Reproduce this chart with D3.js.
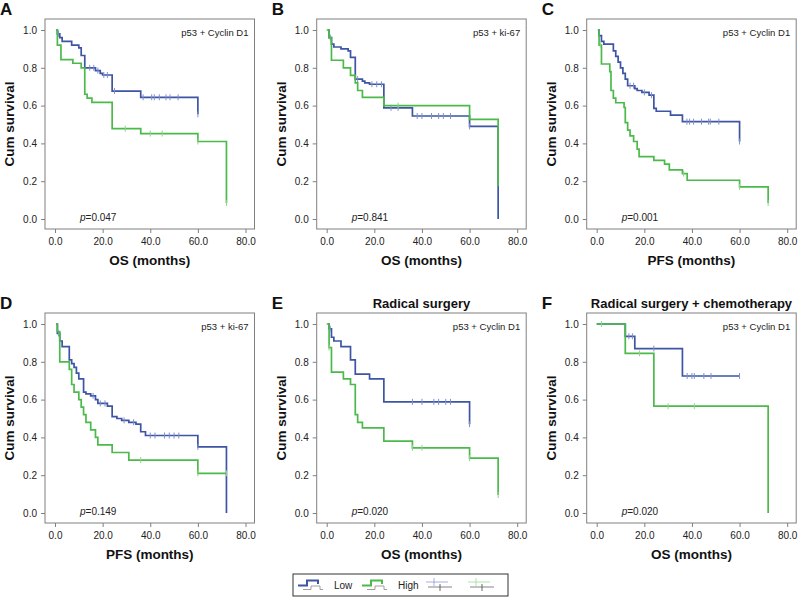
<!DOCTYPE html>
<html><head><meta charset="utf-8">
<script src="https://cdn.jsdelivr.net/npm/d3@7"></script>
<style>body{margin:0;background:#fff}</style></head>
<body>
<script>
// ---------- data ----------
const xTicks = [0, 20, 40, 60, 80];
const yTicks = [0, 0.2, 0.4, 0.6, 0.8, 1.0];
const groupNames = ["Low", "High"];

// Panel A (OS, p53 + Cyclin D1)
const aLowTime = [0.5, 1, 2, 3, 7, 10, 11, 12.5, 17, 19, 20, 24, 36, 60];
const aLowSurv = [1.0, 0.98, 0.96, 0.94, 0.92, 0.905, 0.865, 0.80, 0.785, 0.77, 0.762, 0.677, 0.644, 0.554];
const aLowCensor = [1.5, 14.6, 16.3, 18, 20.5, 22, 25, 37, 40.6, 41.7, 43.8, 46.6, 48.3, 51.7, 60];
const aHighTime = [0.5, 1, 2.5, 7.5, 11, 12.5, 13.5, 15.5, 24, 36, 60, 72];
const aHighSurv = [1.0, 0.92, 0.843, 0.824, 0.80, 0.66, 0.64, 0.617, 0.478, 0.452, 0.41, 0.085];
const aHighCensor = [29.5, 40, 45, 60, 72];

// Panel B (OS, p53 + ki-67)
const bLowTime = [0.5, 1, 2, 3, 6, 9, 10, 12, 15, 16, 18, 24, 36, 60, 72];
const bLowSurv = [1.0, 0.96, 0.925, 0.91, 0.90, 0.89, 0.855, 0.74, 0.73, 0.72, 0.713, 0.588, 0.545, 0.49, 0.0];
const bLowCensor = [1.5, 13, 19, 21, 23, 27, 30, 38, 40, 44, 47, 49, 52, 60];
const bHighTime = [0, 1, 2, 7, 10, 12, 13, 15, 24, 60, 72];
const bHighSurv = [1.0, 0.96, 0.84, 0.80, 0.76, 0.72, 0.68, 0.643, 0.60, 0.527, 0.173];
const bHighCensor = [30];

// Panel C (PFS, p53 + Cyclin D1)
const cLowTime = [0.5, 1, 2, 3, 7, 8, 9, 10, 11, 12, 13, 16, 17, 19, 22, 24, 25, 31, 36, 60];
const cLowSurv = [1.0, 0.97, 0.94, 0.925, 0.89, 0.86, 0.83, 0.80, 0.77, 0.74, 0.705, 0.69, 0.68, 0.67, 0.655, 0.585, 0.57, 0.55, 0.515, 0.41];
const cLowCensor = [14, 15.5, 20, 23, 37.9, 39, 40.7, 44, 47, 47.7, 51.3, 60];
const cHighTime = [0.5, 1, 2, 5.5, 6, 7, 8, 11.5, 12, 13, 14, 15.5, 17, 17.8, 24, 28.5, 30.5, 36, 38, 60, 72];
const cHighSurv = [1.0, 0.92, 0.82, 0.78, 0.68, 0.64, 0.615, 0.59, 0.51, 0.47, 0.44, 0.41, 0.37, 0.33, 0.31, 0.29, 0.26, 0.24, 0.205, 0.17, 0.085];
const cHighCensor = [1.5, 36.5, 60, 72];

// Panel D (PFS, p53 + ki-67)
const dLowTime = [0.5, 1, 2, 3, 6, 7, 8, 9, 10, 12, 13, 15, 17, 18, 22, 24, 26, 28, 31, 34, 36, 38, 60, 72];
const dLowSurv = [1.0, 0.95, 0.91, 0.88, 0.81, 0.79, 0.77, 0.74, 0.71, 0.64, 0.63, 0.62, 0.60, 0.58, 0.565, 0.51, 0.50, 0.49, 0.48, 0.47, 0.43, 0.41, 0.35, 0.0];
const dLowCensor = [1.5, 16, 19, 21, 29, 33, 40, 42, 46, 48, 50, 52, 60];
const dHighTime = [0.5, 1, 2, 6, 7, 8, 10, 11, 12, 13, 15, 17, 18, 24, 31, 60, 72];
const dHighSurv = [1.0, 0.96, 0.80, 0.76, 0.68, 0.64, 0.60, 0.56, 0.52, 0.48, 0.44, 0.40, 0.36, 0.32, 0.28, 0.21, 0.21];
const dHighCensor = [36, 60, 72];

// Panel E (OS, radical surgery)
const eLowTime = [0.5, 1, 2, 3, 6, 10, 12, 18, 24, 60];
const eLowSurv = [1.0, 0.975, 0.93, 0.91, 0.88, 0.81, 0.735, 0.71, 0.588, 0.47];
const eLowCensor = [1.5, 36, 40, 45, 47, 50, 52, 60];
const eHighTime = [0, 1, 2, 7, 10, 12, 13, 15, 24, 36, 60, 72];
const eHighSurv = [1.0, 0.875, 0.745, 0.71, 0.68, 0.52, 0.48, 0.45, 0.38, 0.345, 0.29, 0.095];
const eHighCensor = [1, 36, 40, 60, 72];

// Panel F (OS, radical surgery + chemotherapy)
const fLowTime = [0, 12, 16, 36, 60];
const fLowSurv = [1.0, 0.935, 0.87, 0.725, 0.725];
const fLowCensor = [13.5, 15, 24, 38, 40, 41, 45, 48, 60];
const fHighTime = [0, 12, 24, 72];
const fHighSurv = [1.0, 0.845, 0.565, 0.0];
const fHighCensor = [2, 18, 30, 41];

const panelLetters = ["A", "B", "C", "D", "E", "F"];
const panelTitles = ["", "", "", "", "Radical surgery", "Radical surgery + chemotherapy"];
const panelXLabels = ["OS (months)", "OS (months)", "PFS (months)", "PFS (months)", "OS (months)", "OS (months)"];
const panelMarkers = ["p53 + Cyclin D1", "p53 + ki-67", "p53 + Cyclin D1", "p53 + ki-67", "p53 + Cyclin D1", "p53 + Cyclin D1"];
const panelP = ["0.047", "0.841", "0.001", "0.149", "0.020", "0.020"];

const panelLow = [[aLowTime, aLowSurv, aLowCensor], [bLowTime, bLowSurv, bLowCensor], [cLowTime, cLowSurv, cLowCensor],
                  [dLowTime, dLowSurv, dLowCensor], [eLowTime, eLowSurv, eLowCensor], [fLowTime, fLowSurv, fLowCensor]];
const panelHigh = [[aHighTime, aHighSurv, aHighCensor], [bHighTime, bHighSurv, bHighCensor], [cHighTime, cHighSurv, cHighCensor],
                   [dHighTime, dHighSurv, dHighCensor], [eHighTime, eHighSurv, eHighCensor], [fHighTime, fHighSurv, fHighCensor]];

// ---------- drawing ----------
const W = 798, H = 597;
const FONT = "Arial, 'Liberation Sans', Helvetica, sans-serif";
const BLUE = "#3d55a4", GREEN = "#4cba4a";
const BLUE_C = "#7f8fcc", GREEN_C = "#8fd38c";
const colL = [45, 316.7, 586.7];
const rowT = [19, 313];
const FW = 209.5, FH = 210;

const svg = d3.select("body").append("svg")
  .attr("width", W).attr("height", H)
  .style("font-family", FONT);

function survAt(T, S, t) {
  let v = S[0];
  for (let i = 0; i < T.length; i++) if (T[i] <= t) v = S[i];
  return v;
}

panelLetters.forEach((letter, i) => {
  const L = colL[i % 3], T0 = rowT[Math.floor(i / 3)];
  const g = svg.append("g");
  const x = d3.scaleLinear().domain([0, 80]).range([L + 10, L + 200.5]);
  const y = d3.scaleLinear().domain([0, 1]).range([T0 + 200, T0 + 11]);

  // frame
  g.append("rect").attr("x", L).attr("y", T0).attr("width", FW).attr("height", FH)
    .attr("fill", "none").attr("stroke", "#808080").attr("stroke-width", 1);

  // axes
  const xa = g.append("g").attr("transform", `translate(0,${T0 + FH})`)
    .call(d3.axisBottom(x).tickValues(xTicks).tickFormat(d3.format(".1f")).tickSize(4).tickPadding(5));
  const ya = g.append("g").attr("transform", `translate(${L},0)`)
    .call(d3.axisLeft(y).tickValues(yTicks).tickFormat(d3.format(".1f")).tickSize(4).tickPadding(4));
  [xa, ya].forEach(a => {
    a.select(".domain").remove();
    a.selectAll("line").attr("stroke", "#808080");
    a.selectAll("text").attr("font-family", FONT).attr("font-size", 10).attr("fill", "#222");
  });

  // axis titles
  g.append("text").attr("x", L + FW / 2).attr("y", T0 + FH + 36)
    .attr("text-anchor", "middle").attr("font-weight", "bold").attr("font-size", 13.5).attr("fill", "#111")
    .text(panelXLabels[i]);
  g.append("text").attr("transform", `translate(${L - 31},${T0 + FH / 2}) rotate(-90)`)
    .attr("text-anchor", "middle").attr("font-weight", "bold").attr("font-size", 13.5).attr("fill", "#111")
    .text("Cum survival");

  // letter & title
  g.append("text").attr("x", L - 45).attr("y", T0 - 4).attr("font-weight", "bold").attr("font-size", 17).attr("fill", "#111")
    .text(letter);
  if (panelTitles[i]) {
    g.append("text").attr("x", L + FW / 2).attr("y", T0 - 5).attr("text-anchor", "middle")
      .attr("font-weight", "bold").attr("font-size", 13).attr("fill", "#111").text(panelTitles[i]);
  }

  // marker text and p-value
  g.append("text").attr("x", L + FW - 6).attr("y", T0 + 17).attr("text-anchor", "end")
    .attr("font-size", 9.5).attr("fill", "#222").text(panelMarkers[i]);
  const pt = g.append("text").attr("x", L + 35).attr("y", T0 + FH - 8).attr("font-size", 10).attr("fill", "#222");
  pt.append("tspan").attr("font-style", "italic").text("p");
  pt.append("tspan").text("=" + panelP[i]);

  // curves
  const curves = [[panelLow[i], BLUE, BLUE_C], [panelHigh[i], GREEN, GREEN_C]];
  curves.forEach(([c, col, ccol]) => {
    const [Tm, Sv, Cn] = c;
    const line = d3.line().curve(d3.curveStepAfter).x(d => x(d[0])).y(d => y(d[1]));
    g.append("path").attr("d", line(Tm.map((t, k) => [t, Sv[k]])))
      .attr("fill", "none").attr("stroke", col).attr("stroke-width", 1.7);
    g.selectAll(null).data(Cn).enter().append("line")
      .attr("x1", d => x(d)).attr("x2", d => x(d))
      .attr("y1", d => y(survAt(Tm, Sv, d)) - 3).attr("y2", d => y(survAt(Tm, Sv, d)) + 3)
      .attr("stroke", ccol).attr("stroke-width", 1);
  });
});

// ---------- legend ----------
const lg = svg.append("g");
lg.append("rect").attr("x", 293).attr("y", 574).attr("width", 215).attr("height", 22)
  .attr("fill", "#fff").attr("stroke", "#333").attr("stroke-width", 1);
function stepIcon(x0, col) {
  lg.append("path").attr("d", `M${x0 + 5},${589.5}H${x0 + 13}V${586}H${x0 + 22}V${589.5}H${x0 + 25}`)
    .attr("fill", "none").attr("stroke", "#888").attr("stroke-width", 0.8);
  lg.append("path").attr("d", `M${x0},${585.5}H${x0 + 9}V${580.5}H${x0 + 20}V${584}`)
    .attr("fill", "none").attr("stroke", col).attr("stroke-width", 2);
}
stepIcon(298, BLUE);
lg.append("text").attr("x", 334).attr("y", 589).attr("font-size", 10).attr("fill", "#222").text(groupNames[0]);
stepIcon(362, GREEN);
lg.append("text").attr("x", 398).attr("y", 589).attr("font-size", 10).attr("fill", "#222").text(groupNames[1]);
function censorIcon(x0, col) {
  lg.append("line").attr("x1", x0).attr("x2", x0 + 22).attr("y1", 582).attr("y2", 582).attr("stroke", col).attr("stroke-width", 0.8);
  lg.append("line").attr("x1", x0 + 8).attr("x2", x0 + 8).attr("y1", 578).attr("y2", 586).attr("stroke", col).attr("stroke-width", 0.8);
  lg.append("line").attr("x1", x0 + 2).attr("x2", x0 + 26).attr("y1", 587).attr("y2", 587).attr("stroke", "#666").attr("stroke-width", 0.8);
  lg.append("line").attr("x1", x0 + 14).attr("x2", x0 + 14).attr("y1", 584).attr("y2", 591).attr("stroke", "#444").attr("stroke-width", 0.8);
}
censorIcon(426, "#8f9ad6");
censorIcon(468, "#9ed99a");
</script>
</body></html>
